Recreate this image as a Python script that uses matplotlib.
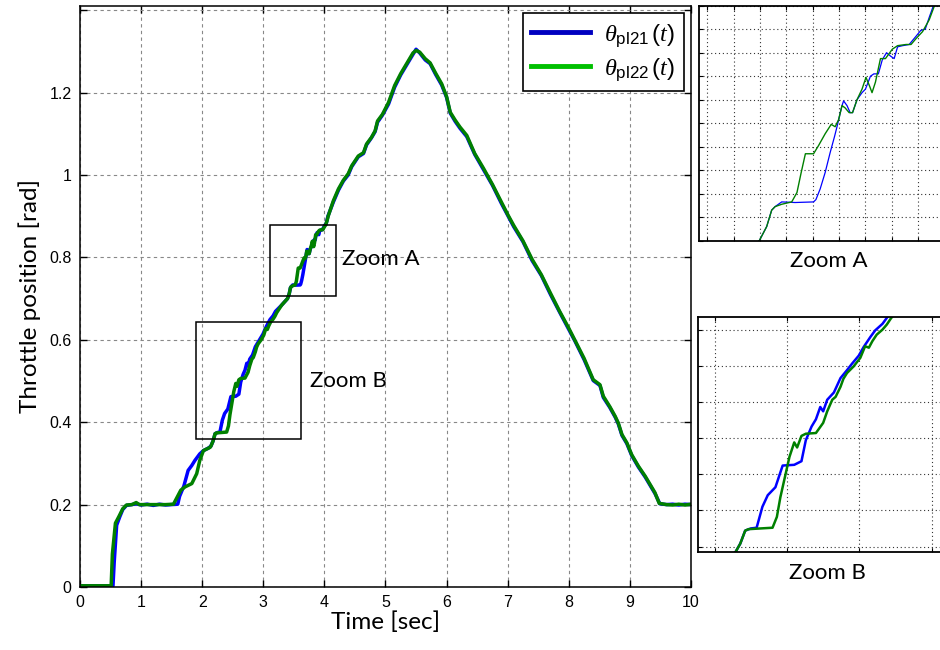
import matplotlib
matplotlib.use("Agg")
import matplotlib.pyplot as plt
from matplotlib.patches import Rectangle
from matplotlib.lines import Line2D

plt.rcParams['font.family'] = ['Liberation Sans', 'DejaVu Sans']
plt.rcParams['mathtext.fontset'] = 'custom'
plt.rcParams['mathtext.rm'] = 'Liberation Sans'
plt.rcParams['mathtext.it'] = 'Liberation Serif:italic'
plt.rcParams['mathtext.sf'] = 'Liberation Sans'

# throttle position (time [s], position [rad])
t_blue = [0.0, 0.3, 0.54, 0.56, 0.6, 0.65, 0.7, 0.76, 0.85, 0.92, 1.0, 1.1, 1.2, 1.3, 1.4, 1.5,
          1.6, 1.63, 1.7, 1.77, 1.83, 1.88, 1.96, 2.02, 2.1, 2.143, 2.177, 2.211, 2.25, 2.29,
          2.33, 2.367, 2.42, 2.44, 2.47, 2.55, 2.60, 2.63, 2.67, 2.70, 2.73, 2.75, 2.778, 2.824,
          2.87, 2.915, 2.95, 2.996, 3.03, 3.077, 3.11, 3.16, 3.2, 3.3, 3.397, 3.425, 3.444, 3.457,
          3.482, 3.533, 3.603, 3.612, 3.628, 3.647, 3.666, 3.683, 3.692, 3.711, 3.717, 3.73,
          3.742, 3.751, 3.768, 3.787, 3.8, 3.819, 3.832, 3.849, 3.864, 3.88, 3.896, 3.909, 3.922,
          3.941, 3.966, 3.992, 4.01, 4.027, 4.042, 4.058, 4.146, 4.23, 4.31, 4.39, 4.447, 4.555,
          4.64, 4.69, 4.77, 4.83, 4.87, 4.95, 5.05, 5.15, 5.25, 5.35, 5.45, 5.5, 5.56, 5.65, 5.73,
          5.82, 5.92, 6.0, 6.06, 6.14, 6.22, 6.33, 6.46, 6.6, 6.75, 6.9, 7.0, 7.1, 7.25, 7.4,
          7.55, 7.7, 7.85, 8.0, 8.1, 8.25, 8.4, 8.51, 8.565, 8.67, 8.76, 8.81, 8.87, 8.95, 9.03,
          9.14, 9.25, 9.33, 9.41, 9.49, 9.6, 9.7, 9.8, 9.9, 10.0]
y_blue = [0.003, 0.003, 0.003, 0.06, 0.15, 0.17, 0.188, 0.198, 0.2, 0.202, 0.199, 0.201, 0.198,
          0.201, 0.199, 0.2, 0.201, 0.22, 0.245, 0.283, 0.295, 0.307, 0.323, 0.331, 0.337, 0.342,
          0.354, 0.372, 0.375, 0.376, 0.405, 0.421, 0.432, 0.444, 0.462, 0.463, 0.468, 0.497,
          0.516, 0.526, 0.543, 0.537, 0.553, 0.563, 0.583, 0.594, 0.603, 0.614, 0.626, 0.640,
          0.649, 0.658, 0.669, 0.684, 0.70, 0.712, 0.726, 0.729, 0.733, 0.7325, 0.733, 0.735,
          0.744, 0.758, 0.775, 0.789, 0.797, 0.815, 0.819, 0.815, 0.809, 0.809, 0.82, 0.826,
          0.829, 0.84, 0.842, 0.842, 0.854, 0.86, 0.857, 0.855, 0.865, 0.866, 0.867, 0.874,
          0.879, 0.88, 0.89, 0.9, 0.934, 0.963, 0.985, 1.0, 1.02, 1.044, 1.052, 1.073, 1.09,
          1.105, 1.128, 1.145, 1.172, 1.213, 1.243, 1.268, 1.293, 1.305, 1.296, 1.279, 1.27,
          1.244, 1.218, 1.188, 1.15, 1.13, 1.113, 1.093, 1.05, 1.014, 0.975, 0.93, 0.902, 0.874,
          0.838, 0.792, 0.756, 0.71, 0.667, 0.625, 0.597, 0.552, 0.501, 0.489, 0.46, 0.436,
          0.412, 0.396, 0.368, 0.348, 0.319, 0.291, 0.267, 0.247, 0.227, 0.202, 0.2, 0.201,
          0.199, 0.201, 0.2]

t_green = [0.0, 0.3, 0.51, 0.53, 0.58, 0.64, 0.7, 0.76, 0.85, 0.92, 0.97, 1.1, 1.2, 1.3, 1.4,
           1.53, 1.58, 1.65, 1.72, 1.83, 1.91, 1.96, 2.02, 2.13, 2.143, 2.177, 2.211, 2.234, 2.4,
           2.43, 2.454, 2.48, 2.517, 2.55, 2.57, 2.6, 2.63, 2.70, 2.75, 2.778, 2.813, 2.836, 2.87,
           2.89, 2.915, 2.96, 3.007, 3.04, 3.066, 3.09, 3.12, 3.16, 3.19, 3.22, 3.3, 3.397, 3.425,
           3.444, 3.457, 3.482, 3.52, 3.54, 3.556, 3.572, 3.59, 3.603, 3.622, 3.647, 3.67, 3.685,
           3.698, 3.711, 3.723, 3.738, 3.751, 3.768, 3.787, 3.802, 3.815, 3.825, 3.838, 3.857,
           3.876, 3.902, 3.922, 3.954, 3.973, 3.992, 4.017, 4.042, 4.062, 4.146, 4.23, 4.31, 4.39,
           4.447, 4.555, 4.64, 4.69, 4.77, 4.83, 4.87, 4.95, 5.05, 5.15, 5.25, 5.35, 5.45, 5.5,
           5.56, 5.65, 5.73, 5.82, 5.92, 6.0, 6.06, 6.14, 6.22, 6.33, 6.46, 6.6, 6.75, 6.9, 7.0,
           7.1, 7.25, 7.4, 7.55, 7.7, 7.85, 8.0, 8.1, 8.25, 8.4, 8.51, 8.565, 8.67, 8.76, 8.81,
           8.87, 8.95, 9.03, 9.14, 9.25, 9.33, 9.41, 9.48, 9.6, 9.7, 9.8, 9.9, 10.0]
y_green = [0.003, 0.003, 0.003, 0.08, 0.155, 0.172, 0.19, 0.199, 0.2, 0.205, 0.2, 0.2, 0.2, 0.2,
           0.2, 0.201, 0.215, 0.235, 0.243, 0.251, 0.275, 0.307, 0.331, 0.339, 0.342, 0.354,
           0.372, 0.374, 0.376, 0.391, 0.418, 0.441, 0.474, 0.494, 0.487, 0.503, 0.506, 0.507,
           0.521, 0.537, 0.553, 0.557, 0.571, 0.582, 0.59, 0.599, 0.611, 0.627, 0.625, 0.634,
           0.643, 0.65, 0.657, 0.666, 0.684, 0.70, 0.712, 0.726, 0.729, 0.731, 0.733, 0.741,
           0.758, 0.774, 0.774, 0.774, 0.781, 0.791, 0.799, 0.797, 0.803, 0.815, 0.813, 0.809,
           0.809, 0.82, 0.829, 0.839, 0.832, 0.826, 0.835, 0.855, 0.855, 0.863, 0.866, 0.867,
           0.867, 0.872, 0.878, 0.888, 0.9, 0.937, 0.966, 0.987, 1.003, 1.022, 1.046, 1.054,
           1.075, 1.091, 1.107, 1.131, 1.147, 1.176, 1.217, 1.246, 1.271, 1.296, 1.302, 1.298,
           1.282, 1.272, 1.247, 1.221, 1.19, 1.152, 1.133, 1.116, 1.096, 1.052, 1.017, 0.977,
           0.933, 0.904, 0.877, 0.84, 0.795, 0.758, 0.713, 0.669, 0.628, 0.599, 0.555, 0.503,
           0.491, 0.463, 0.438, 0.414, 0.398, 0.37, 0.35, 0.321, 0.293, 0.269, 0.249, 0.229,
           0.203, 0.2, 0.199, 0.201, 0.199, 0.201]

labels = [r'$\theta_{\mathrm{pl21}}\,(t)$', r'$\theta_{\mathrm{pl22}}\,(t)$']
x_ticks = list(range(0, 11))
y_ticks = [0, 0.2, 0.4, 0.6, 0.8, 1.0, 1.2, 1.4]
y_tick_labels = ['0', '0.2', '0.4', '0.6', '0.8', '1', '1.2', '']

# zoom windows: (t0, t1, y0, y1)
box_a = (3.11, 4.19, 0.7065, 0.878)
box_b = (1.895, 3.61, 0.36, 0.642)
inset_a_lim = (3.168, 4.153, 0.70, 0.90)
inset_b_lim = (1.887, 3.674, 0.342, 0.667)

BLUE = '#0000ff'
GREEN = '#008000'
label_font = ['Lato', 'DejaVu Sans']

fig = plt.figure(figsize=(9.4, 6.5), dpi=100)
ax = fig.add_axes([0.0851, 0.0969, 0.6500, 0.8939])

ax.plot(t_blue, y_blue, color=BLUE, lw=2.5)
ax.plot(t_green, y_green, color=GREEN, lw=2.5)
ax.set_xlim(0, 10)
ax.set_ylim(0, 1.41)
ax.set_xticks(x_ticks)
ax.set_yticks(y_ticks)
ax.set_yticklabels(y_tick_labels)
ax.tick_params(direction='in', top=True, right=True, length=5, width=1, labelsize=11.5, pad=6)
ax.grid(True, color='#888888', linestyle=(0, (3, 3)), linewidth=0.8)
for s in ax.spines.values():
    s.set_linewidth(1.1)
ax.set_xlabel('Time [sec]', fontsize=17.5, family=label_font, labelpad=1)
ax.set_ylabel('Throttle position [rad]', fontsize=17.5, family=label_font, labelpad=6)

for (x0, x1, y0, y1) in (box_a, box_b):
    ax.add_patch(Rectangle((x0, y0), x1 - x0, y1 - y0, fill=False, edgecolor='black', lw=1.1, zorder=5))
ax.text(4.29, 0.796, 'Zoom A', fontsize=16, family=label_font, va='center', ha='left')
ax.text(3.76, 0.501, 'Zoom B', fontsize=16, family=label_font, va='center', ha='left')

handles = [Line2D([], [], color='#0000c0', lw=3.5), Line2D([], [], color='#00c000', lw=3.5)]
leg = ax.legend(handles, labels, loc='upper right', fontsize=17.5, handlelength=2.4,
                fancybox=False, framealpha=1, edgecolor='black', borderaxespad=0.3,
                labelspacing=0.3, borderpad=0.35, handletextpad=0.6)
leg.get_frame().set_linewidth(1.2)

# insets
def draw_inset(rect, lims, xstep_ticks, ystep_ticks, name, lw_b, lw_g):
    ins = fig.add_axes(rect)
    ins.plot(t_blue, y_blue, color=BLUE, lw=lw_b)
    ins.plot(t_green, y_green, color=GREEN, lw=lw_g)
    ins.set_xlim(lims[0], lims[1])
    ins.set_ylim(lims[2], lims[3])
    ins.set_xticks(xstep_ticks)
    ins.set_yticks(ystep_ticks)
    ins.set_xticklabels([])
    ins.set_yticklabels([])
    ins.tick_params(direction='in', top=True, right=True, length=3, width=0.8)
    ins.grid(True, color='#333333', linestyle=(0, (1, 2.5)), linewidth=0.8)
    for s in ins.spines.values():
        s.set_linewidth(1.3)
    ins.set_xlabel(name, fontsize=16, family=label_font, labelpad=4)
    return ins

draw_inset([0.7436, 0.6297, 0.276, 0.3615], inset_a_lim,
           [3.2, 3.3, 3.4, 3.5, 3.6, 3.7, 3.8, 3.9, 4.0, 4.1],
           [0.70, 0.72, 0.74, 0.76, 0.78, 0.80, 0.82, 0.84, 0.86, 0.88, 0.90],
           'Zoom A', 0.9, 1.0)
draw_inset([0.7429, 0.1503, 0.275, 0.3615], inset_b_lim,
           [2.0, 2.5, 3.0, 3.5],
           [0.35, 0.40, 0.45, 0.50, 0.55, 0.60, 0.65],
           'Zoom B', 1.8, 1.8)

fig.savefig('out.png', dpi=100)
